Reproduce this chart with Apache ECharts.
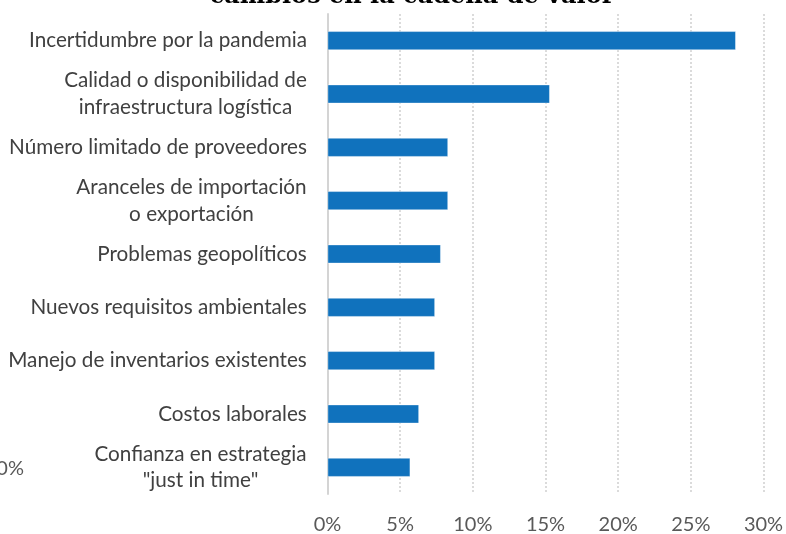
<!DOCTYPE html>
<html><head><meta charset="utf-8">
<script src="https://cdn.jsdelivr.net/npm/echarts@6/dist/echarts.min.js"></script>
<style>html,body{margin:0;padding:0;background:#fff}#c{width:786px;height:534px}</style>
</head><body><div id="c"></div>
<script>
const categories = [
  "Incertidumbre por la pandemia",
  "Calidad o disponibilidad de\ninfraestructura logística",
  "Número limitado de proveedores",
  "Aranceles de importación\no exportación",
  "Problemas geopolíticos",
  "Nuevos requisitos ambientales",
  "Manejo de inventarios existentes",
  "Costos laborales",
  "Confianza en estrategia\n\"just in time\""
];
const values = [28.1, 15.3, 8.3, 8.3, 7.8, 7.4, 7.4, 6.3, 5.7];
const xTicks = [0, 5, 10, 15, 20, 25, 30];
const titleText = "cambios en la cadena de valor";
const strayLabel = "0%";

const FONT = 'Lato, "Noto Sans", sans-serif';
const LSIZE = 20.7;
const ctx = document.createElement('canvas').getContext('2d');
ctx.font = LSIZE + 'px ' + FONT;
const rich = {};
const labelMap = {};
categories.forEach((c, i) => {
  const lines = c.split('\n');
  const w = Math.max(...lines.map(l => ctx.measureText(l).width));
  const key = 'c' + i;
  rich[key] = { width: Math.ceil(w) + 1, align: 'center', fontSize: LSIZE, fontFamily: FONT, color: '#404040', lineHeight: 26.5 };
  labelMap[c] = lines.map(l => '{' + key + '|' + l + '}').join('\n');
});

const chart = echarts.init(document.getElementById('c'));
chart.setOption({
  animation: false,
  grid: { left: 327.5, right: 22.5, top: 14, bottom: 40, containLabel: false, outerBoundsMode: 'none' },
  xAxis: {
    type: 'value', min: xTicks[0], max: xTicks[xTicks.length - 1], interval: 5,
    axisLine: { show: false }, axisTick: { show: false },
    axisLabel: { formatter: v => v + '%', color: '#595959', fontSize: 20, fontFamily: FONT, margin: 21 },
    splitLine: { show: true, lineStyle: { color: '#cfcfcf', width: 1.5, type: [2, 2] } }
  },
  yAxis: {
    type: 'category', data: categories, inverse: true,
    axisLine: { show: true, lineStyle: { color: '#d4d4d4', width: 2 } },
    axisTick: { show: false },
    axisLabel: { formatter: v => labelMap[v], rich: rich, margin: 20, align: 'right', color: '#404040', fontSize: LSIZE, fontFamily: FONT }
  },
  series: [{
    type: 'bar', data: values, barWidth: 19,
    itemStyle: { color: '#1072bd', borderColor: 'rgba(255,255,255,0.5)', borderWidth: 0.8 }
  }],
  graphic: [
    { type: 'text', x: 412, y: 8.5, style: { text: titleText, fontSize: 24, fontWeight: 'bold', fontFamily: '"DejaVu Serif", serif', fill: '#000', textAlign: 'center', textVerticalAlign: 'bottom' } },
    { type: 'text', x: 24, y: 469, style: { text: strayLabel, fontSize: 20, fontFamily: FONT, fill: '#595959', textAlign: 'right', textVerticalAlign: 'middle' } }
  ]
});
</script></body></html>
